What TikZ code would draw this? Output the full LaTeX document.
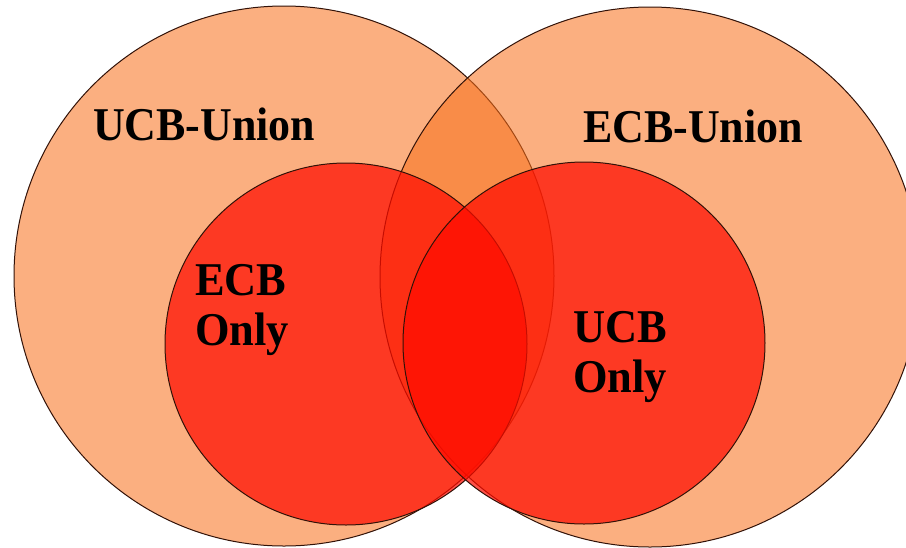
\documentclass[tikz,border=0pt]{standalone}
\usepackage{fontspec}
\setmainfont{Liberation Serif}
\definecolor{bigfill}{RGB}{248,113,29}
\definecolor{redfill}{RGB}{255,12,0}
\definecolor{edge}{RGB}{50,18,8}
\begin{document}
\begin{tikzpicture}[x=1pt,y=-1pt,
  bigset/.style={fill=bigfill,fill opacity=0.56,draw=edge,line width=1pt},
  smallset/.style={fill=redfill,fill opacity=0.72,draw=edge,line width=1pt},
  lbl/.style={anchor=base west,inner sep=0pt,text=black,font=\fontsize{47}{50}\selectfont\bfseries}]
\clip (0,0) rectangle (906,547);
\fill[white] (0,0) rectangle (906,547);
\draw[bigset] (284,276) circle[radius=270];
\draw[bigset] (650,277) circle[radius=270];
\draw[smallset] (346,344) circle[radius=181];
\draw[smallset] (584,343) circle[radius=181];
\node[lbl] (ucbunion) at (93,140) {\scalebox{0.935}[1]{UCB-Union}};
\node[lbl] (ecbunion) at (583,142) {\scalebox{0.935}[1]{ECB-Union}};
\node[lbl] (ecbonly) at (195,295) {\scalebox{0.945}[1]{\begin{tabular}[t]{@{}l@{}}ECB\\Only\end{tabular}}};
\node[lbl] (ucbonly) at (573,342) {\scalebox{0.945}[1]{\begin{tabular}[t]{@{}l@{}}UCB\\Only\end{tabular}}};
\end{tikzpicture}
\end{document}
